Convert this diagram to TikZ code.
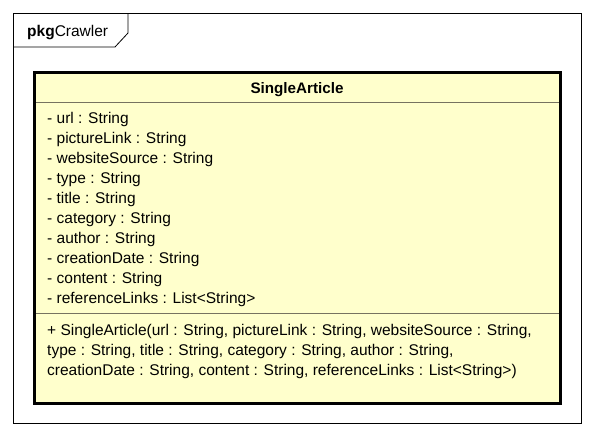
\documentclass[tikz,border=0pt]{standalone}
\usepackage{fontspec}
\setmainfont{Liberation Sans}
\begin{document}
\begin{tikzpicture}[x=1pt,y=-1pt,
  txt/.style={anchor=base west,inner sep=0pt,font=\fontsize{15.5}{18}\selectfont},
  sep/.style={draw=black!70!yellow!60!gray,line width=1pt}]
\useasboundingbox (0,0) rectangle (594,437);
\fill[white] (0,0) rectangle (594,437);
% package frame
\draw[line width=0.8pt] (13,13) rectangle (581,423);
\draw[line width=0.8pt] (13,47) -- (115,47) -- (128,33) -- (128,13);
\node[txt] (pkg) at (27,36.5) {\textbf{pkg}Crawler};
% class box
\fill[fill={rgb,255:red,255;green,255;blue,204}] (34,72) rectangle (561,404);
\draw[sep] (35,102) -- (560,102);
\draw[sep] (35,313) -- (560,313);
\draw[line width=3pt] (34.5,72.5) rectangle (560.5,403.5);
\node[font=\fontsize{15.2}{18}\selectfont\bfseries,inner sep=0pt,anchor=base] (title) at (297,93.5) {SingleArticle};
\foreach \t [count=\i from 0] in {{- url : String},{- pictureLink : String},{- websiteSource : String},{- type : String},{- title : String},{- category : String},{- author : String},{- creationDate : String},{- content : String},{- referenceLinks : List<String>}}
  \node[txt] (a\i) at (47,123+20*\i) {\t};
\node[txt] (o1) at (47,335) {+ SingleArticle(url : String, pictureLink : String, websiteSource : String,};
\node[txt] (o2) at (47,355) {type : String, title : String, category : String, author : String,};
\node[txt] (o3) at (47,375) {creationDate : String, content : String, referenceLinks : List<String>)};
\end{tikzpicture}
\end{document}
